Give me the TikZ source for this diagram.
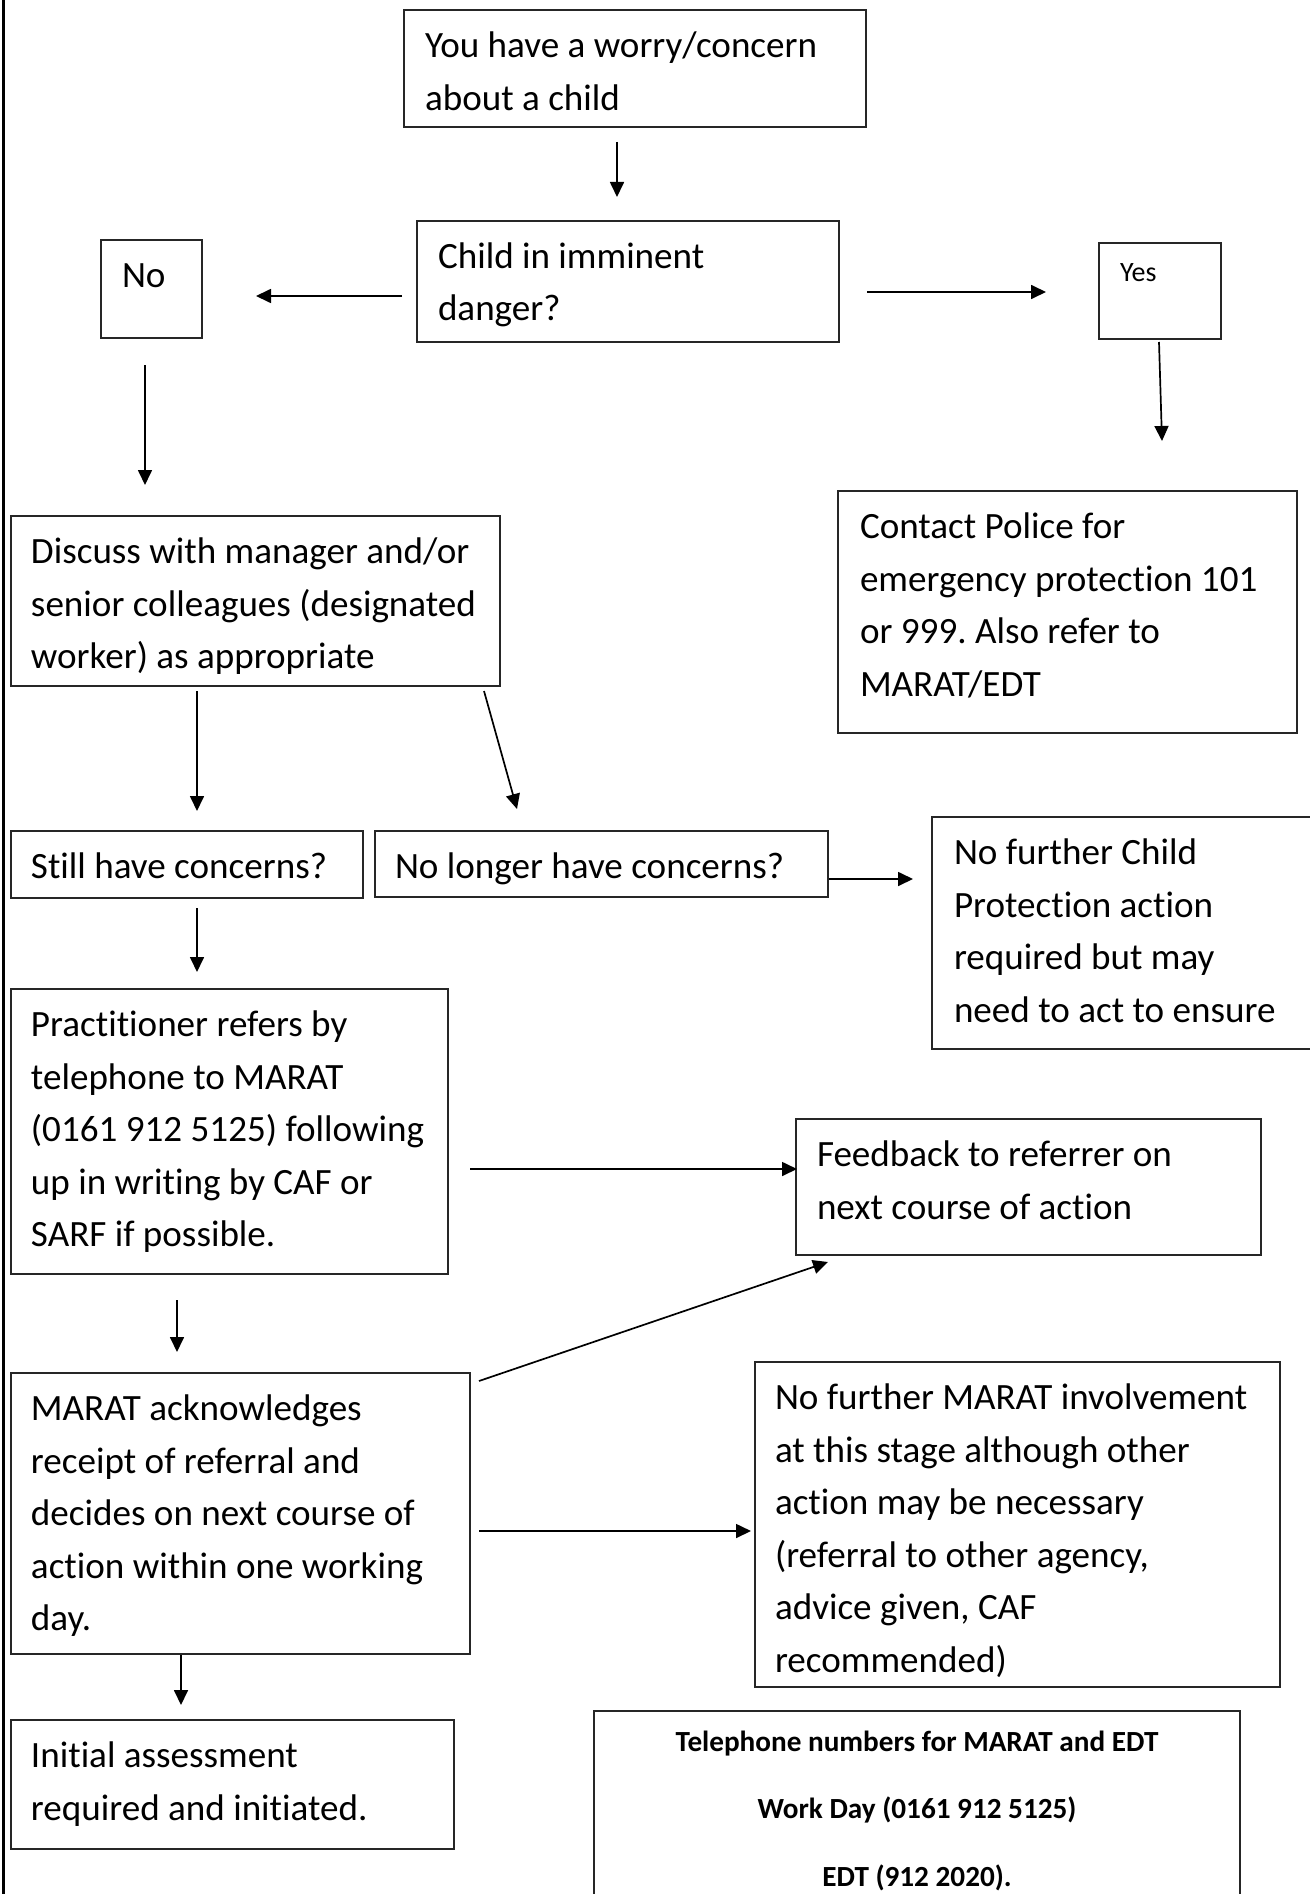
\documentclass[tikz,border=0pt]{standalone}
\usepackage{fontspec}
\setmainfont{Carlito}[Ligatures={NoCommon}]
\frenchspacing
\usetikzlibrary{calc,arrows.meta}
\tikzset{
  box/.style={draw=black!85, line width=0.55pt, inner sep=0pt, outer sep=0pt, anchor=north west},
  txt/.style={inner sep=0pt, outer sep=0pt, anchor=north west, align=left,
    font=\fontsize{18.55}{26.25}\selectfont\frenchspacing},
  smalltxt/.style={inner sep=0pt, outer sep=0pt, anchor=north west, align=left,
    font=\fontsize{14}{20}\selectfont},
  phonetxt/.style={inner sep=0pt, outer sep=0pt, anchor=north, align=center,
    font=\fontsize{14.6}{33.75}\selectfont\bfseries},
  arr/.style={line width=0.85pt, -{Triangle[length=7.5pt,width=7pt]}}
}
\begin{document}
\begin{tikzpicture}[x=0.5pt,y=-0.5pt]
\useasboundingbox (0,0) rectangle (1310,1894);
\fill[white] (0,0) rectangle (1310,1894);
\begin{scope}
\clip (0,0) rectangle (1310,1894);
% left border
\draw[line width=1.1pt] (3.5,-10) coordinate (lt) -- (3.5,1910) coordinate (lb);

% boxes
\node[box, minimum width=231pt, minimum height=58.5pt] (worry) at (404,10) {};
\node[box, minimum width=211pt, minimum height=60.5pt] (danger) at (417,221) {};
\node[box, minimum width=50.5pt, minimum height=49pt] (no) at (101,240) {};
\node[box, minimum width=61pt, minimum height=48pt] (yes) at (1099,243) {};
\node[box, minimum width=229.5pt, minimum height=121pt] (police) at (838,491) {};
\node[box, minimum width=244.5pt, minimum height=85pt] (discuss) at (11,516) {};
\node[box, minimum width=176pt, minimum height=33.5pt] (still) at (11,831) {};
\node[box, minimum width=226.5pt, minimum height=33pt] (nolonger) at (375,831) {};
\node[box, minimum width=199pt, minimum height=116pt] (nfchild) at (932,817) {};
\node[box, minimum width=218.5pt, minimum height=142.5pt] (pract) at (11,989) {};
\node[box, minimum width=232.5pt, minimum height=68pt] (feedback) at (796,1119) {};
\node[box, minimum width=229.5pt, minimum height=140.5pt] (marat) at (11,1373) {};
\node[box, minimum width=262.5pt, minimum height=162.5pt] (nfmarat) at (755,1362) {};
\node[box, minimum width=221.5pt, minimum height=64.5pt] (initial) at (11,1720) {};
\node[box, minimum width=323pt, minimum height=109.5pt] (phone) at (594,1711) {};

% texts
\node[txt] (worry-t) at ($(worry.north west)+(21,11)$) {\strut You have a worry/concern\\about a child};
\node[txt] (danger-t) at ($(danger.north west)+(21,10.75)$) {\strut Child in imminent\\danger?};
\node[txt] (no-t) at ($(no.north west)+(21,10.75)$) {\strut No};
\node[smalltxt] (yes-t) at ($(yes.north west)+(21,10)$) {\strut Yes};
\node[txt] (police-t) at ($(police.north west)+(22,10.75)$) {\strut Contact Police for\\emergency protection 101\\or 999. Also refer to\\MARAT/EDT};
\node[txt] (discuss-t) at ($(discuss.north west)+(20,10.75)$) {\strut Discuss with manager and/or\\senior colleagues (designated\\worker) as appropriate};
\node[txt] (still-t) at ($(still.north west)+(20,10.75)$) {\strut Still have concerns?};
\node[txt] (nolonger-t) at ($(nolonger.north west)+(20,10.75)$) {\strut No longer have concerns?};
\node[txt] (nfchild-t) at ($(nfchild.north west)+(22,10.75)$) {\strut No further Child\\Protection action\\required but may\\need to act to ensure};
\node[txt] (pract-t) at ($(pract.north west)+(20,10.75)$) {\strut Practitioner refers by\\telephone to MARAT\\(0161 912 5125) following\\up in writing by CAF or\\SARF if possible.};
\node[txt] (feedback-t) at ($(feedback.north west)+(21,10.75)$) {\strut Feedback to referrer on\\next course of action};
\node[txt] (marat-t) at ($(marat.north west)+(20,10.75)$) {\strut MARAT acknowledges\\receipt of referral and\\decides on next course of\\action within one working\\day.};
\node[txt] (nfmarat-t) at ($(nfmarat.north west)+(20,10.75)$) {\strut No further MARAT involvement\\at this stage although other\\action may be necessary\\(referral to other agency,\\advice given, CAF\\recommended)};
\node[txt] (initial-t) at ($(initial.north west)+(20,10.75)$) {\strut Initial assessment\\required and initiated.};
\node[phonetxt] (phone-t) at ($(phone.north)+(0,-7.25)$) {\strut Telephone numbers for MARAT and EDT\\Work Day (0161 912 5125)\\EDT (912 2020).};

% connectors
\draw[arr] ($(worry.south west)+(213,15)$) -- ($(danger.north west)+(200,-24)$);
\draw[arr] ($(danger.west)+(-15,14.5)$) -- ($(no.east)+(54,7)$);
\draw[arr] ($(danger.east)+(28,10.5)$) -- ($(yes.west)+(-53,1)$);
\draw[arr] ($(yes.south west)+(60,3)$) -- ($(police.north west)+(324,-50)$);
\draw[arr] ($(no.south west)+(44,27)$) -- ($(discuss.north west)+(134,-31)$);
\draw[arr] ($(discuss.south west)+(186,5)$) -- ($(still.north west)+(186,-20)$);
\draw[arr] ($(discuss.south west)+(473,5)$) -- ($(nolonger.north west)+(142,-22)$);
\draw[arr] ($(nolonger.east)+(1,15)$) -- ($(nfchild.north west)+(-19,62)$);
\draw[arr] ($(still.south west)+(186,10)$) -- ($(pract.north west)+(186,-17)$);
\draw[arr] ($(pract.east)+(22,37.5)$) -- ($(feedback.west)+(1,-18)$);
\draw[arr] ($(pract.south west)+(166,26)$) -- ($(marat.north west)+(166,-21)$);
\draw[arr] ($(marat.north east)+(9,8)$) -- ($(feedback.south west)+(32,7)$);
\draw[arr] ($(marat.east)+(9,17.5)$) -- ($(nfmarat.west)+(-4,6.5)$);
\draw[arr] ($(marat.south west)+(170,1)$) -- ($(initial.north west)+(170,-15)$);
\end{scope}
\end{tikzpicture}
\end{document}
